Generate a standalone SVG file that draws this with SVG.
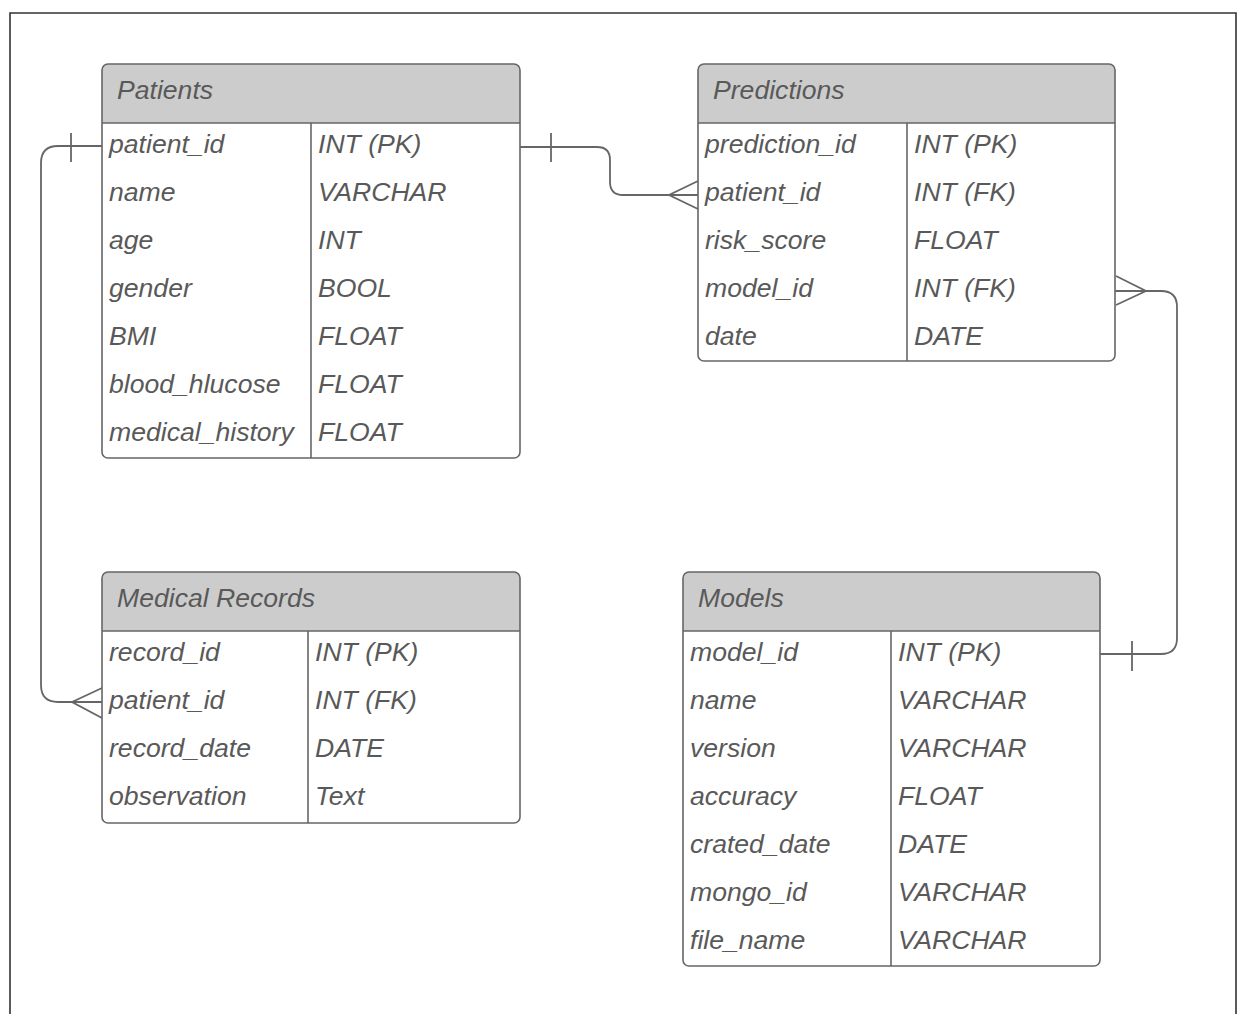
<svg xmlns="http://www.w3.org/2000/svg" width="1239" height="1014" viewBox="0 0 1239 1014">
<style>
.box{fill:none;stroke:#666;stroke-width:1.6}
.hdr{fill:#cccccc}
.ln{stroke:#666;stroke-width:1.6;fill:none}
text{font-family:"Liberation Sans",Arial,sans-serif;font-style:italic;font-size:26.6px;fill:#595959}
.conn{stroke:#666;stroke-width:1.8;fill:none}
</style>
<rect x="0" y="0" width="1239" height="1014" fill="#fff"/>
<path d="M10 1014 V13 H1236 V1014" fill="none" stroke="#333" stroke-width="1.6"/>

<g id="patients">
<path class="hdr" d="M108 64 H514 Q520 64 520 70 V123 H102 V70 Q102 64 108 64 Z"/>
<rect class="box" x="102" y="64" width="418" height="394" rx="6"/>
<line class="ln" x1="102" y1="123" x2="520" y2="123"/>
<line class="ln" x1="311" y1="123" x2="311" y2="458"/>
<text x="117" y="99">Patients</text>
<text x="109" y="153">patient_id</text><text x="318" y="153">INT (PK)</text>
<text x="109" y="201">name</text><text x="318" y="201">VARCHAR</text>
<text x="109" y="249">age</text><text x="318" y="249">INT</text>
<text x="109" y="297">gender</text><text x="318" y="297">BOOL</text>
<text x="109" y="345">BMI</text><text x="318" y="345">FLOAT</text>
<text x="109" y="393">blood_hlucose</text><text x="318" y="393">FLOAT</text>
<text x="109" y="441">medical_history</text><text x="318" y="441">FLOAT</text>
</g>

<g id="predictions">
<path class="hdr" d="M704 64 H1109 Q1115 64 1115 70 V123 H698 V70 Q698 64 704 64 Z"/>
<rect class="box" x="698" y="64" width="417" height="297" rx="6"/>
<line class="ln" x1="698" y1="123" x2="1115" y2="123"/>
<line class="ln" x1="907" y1="123" x2="907" y2="361"/>
<text x="713" y="99">Predictions</text>
<text x="705" y="153">prediction_id</text><text x="914" y="153">INT (PK)</text>
<text x="705" y="201">patient_id</text><text x="914" y="201">INT (FK)</text>
<text x="705" y="249">risk_score</text><text x="914" y="249">FLOAT</text>
<text x="705" y="297">model_id</text><text x="914" y="297">INT (FK)</text>
<text x="705" y="345">date</text><text x="914" y="345">DATE</text>
</g>

<g id="medical_records">
<path class="hdr" d="M108 572 H514 Q520 572 520 578 V631 H102 V578 Q102 572 108 572 Z"/>
<rect class="box" x="102" y="572" width="418" height="251" rx="6"/>
<line class="ln" x1="102" y1="631" x2="520" y2="631"/>
<line class="ln" x1="308" y1="631" x2="308" y2="823"/>
<text x="117" y="607">Medical Records</text>
<text x="109" y="661">record_id</text><text x="315" y="661">INT (PK)</text>
<text x="109" y="709">patient_id</text><text x="315" y="709">INT (FK)</text>
<text x="109" y="757">record_date</text><text x="315" y="757">DATE</text>
<text x="109" y="805">observation</text><text x="315" y="805">Text</text>
</g>

<g id="models">
<path class="hdr" d="M689 572 H1094 Q1100 572 1100 578 V631 H683 V578 Q683 572 689 572 Z"/>
<rect class="box" x="683" y="572" width="417" height="394" rx="6"/>
<line class="ln" x1="683" y1="631" x2="1100" y2="631"/>
<line class="ln" x1="891" y1="631" x2="891" y2="966"/>
<text x="698" y="607">Models</text>
<text x="690" y="661">model_id</text><text x="898" y="661">INT (PK)</text>
<text x="690" y="709">name</text><text x="898" y="709">VARCHAR</text>
<text x="690" y="757">version</text><text x="898" y="757">VARCHAR</text>
<text x="690" y="805">accuracy</text><text x="898" y="805">FLOAT</text>
<text x="690" y="853">crated_date</text><text x="898" y="853">DATE</text>
<text x="690" y="901">mongo_id</text><text x="898" y="901">VARCHAR</text>
<text x="690" y="949">file_name</text><text x="898" y="949">VARCHAR</text>
</g>

<g id="connectors">
<path class="conn" d="M102 146 H58 Q41 146 41 163 V685 Q41 702 58 702 H102"/>
<line class="conn" x1="71" y1="133" x2="71" y2="162"/>
<path class="conn" d="M102 688 L72 702 L102 718"/>

<path class="conn" d="M520 147 H597 Q610 147 610 160 V182 Q610 195 623 195 H698"/>
<line class="conn" x1="551" y1="133" x2="551" y2="162"/>
<path class="conn" d="M698 181 L669 195 L698 209"/>

<path class="conn" d="M1115 291 H1161 Q1177 291 1177 307 V638 Q1177 654 1161 654 H1100"/>
<path class="conn" d="M1116 276 L1146 291 L1116 305"/>
<line class="conn" x1="1132" y1="641" x2="1132" y2="671"/>
</g>
</svg>
